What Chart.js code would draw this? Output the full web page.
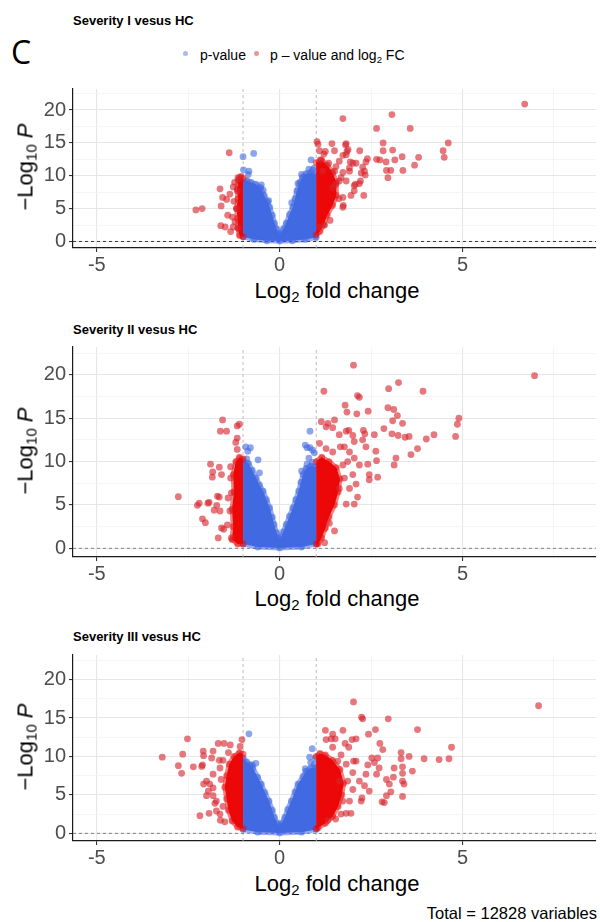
<!DOCTYPE html>
<html>
<head>
<meta charset="utf-8">
<title>Volcano plots</title>
<script src="https://cdn.jsdelivr.net/npm/chart.js"></script>
<style>
  body { margin: 0; width: 600px; height: 922px; position: relative; background: #fff; overflow: hidden;
         font-family: "Liberation Sans", Arial, sans-serif; color: #000; }
  .abs { position: absolute; white-space: nowrap; }
  .letter { left: 11px; top: 36px; font-family: "Open Sans", sans-serif; font-size: 32px; line-height: 32px; }
  .ptitle { left: 73px; font-weight: bold; font-size: 13px; line-height: 14px; }
  .ytitle { font-size: 22px; line-height: 23px; transform: translate(-50%, -50%) rotate(-90deg); }
  .xtitle { font-size: 22px; line-height: 23px; transform: translate(-50%, -50%); }
  sub { font-size: 0.68em; line-height: 0; vertical-align: -0.3em; }
  .dot { width: 5px; height: 5px; border-radius: 50%; }
  .leg { font-size: 14px; line-height: 16px; }
  canvas { position: absolute; left: 0; }
</style>
</head>
<body>

<div class="abs letter">C</div>

<!-- legend -->
<div class="abs dot" style="left:183px;top:51px;background:rgba(65,105,225,0.45)"></div>
<div class="abs leg" style="left:200px;top:47px">p-value</div>
<div class="abs dot" style="left:254px;top:51px;background:rgba(225,40,50,0.5)"></div>
<div class="abs leg" style="left:270px;top:47px">p – value and log<sub>2</sub> FC</div>

<div class="abs ptitle" style="top:14px">Severity I vesus HC</div>
<canvas id="c1" width="600" height="191" style="top:85px"></canvas>
<div class="abs ytitle" style="left:25px;top:167px">−Log<sub>10</sub> <i>P</i></div>
<div class="abs xtitle" style="left:337px;top:290px">Log<sub>2</sub> fold change</div>

<div class="abs ptitle" style="top:323px">Severity II vesus HC</div>
<canvas id="c2" width="600" height="242" style="top:343px"></canvas>
<div class="abs ytitle" style="left:25px;top:451px">−Log<sub>10</sub> <i>P</i></div>
<div class="abs xtitle" style="left:337px;top:598px">Log<sub>2</sub> fold change</div>

<div class="abs ptitle" style="top:630px">Severity III vesus HC</div>
<canvas id="c3" width="600" height="218" style="top:651px"></canvas>
<div class="abs ytitle" style="left:25px;top:747px">−Log<sub>10</sub> <i>P</i></div>
<div class="abs xtitle" style="left:337px;top:883px">Log<sub>2</sub> fold change</div>

<div class="abs" style="right:3px;top:904px;font-size:16.5px;line-height:18px">Total = 12828 variables</div>

<script>
// axes
const xMin = -5.65, xMax = 8.65;
const yMin = -1.0, yMax = 23.2;
const xTicks = [-5, -2.5, 0, 2.5, 5, 7.5];
const xMajor = [-5, 0, 5];
const yTicks = [0, 2.5, 5, 7.5, 10, 12.5, 15, 17.5, 20, 22.5];
const yMajor = [0, 5, 10, 15, 20];
const fcCutoff = [-1, 1];
const pCutoff = 0;

// ---- Severity I ----
const p1BlueCloud = [[-1.0,9.0],[-0.9,9.3],[-0.78,9.0],[-0.65,8.7],[-0.52,8.2],[-0.42,7.0],[-0.33,6.0],[-0.27,5.2],[-0.2,4.0],[-0.14,2.8],[-0.08,1.9],[-0.03,1.2],[0.0,1.0],[0.04,1.2],[0.1,1.9],[0.18,2.8],[0.27,4.1],[0.36,5.2],[0.42,6.5],[0.47,7.7],[0.55,9.0],[0.62,9.8],[0.72,10.3],[0.85,10.5],[1.0,10.2],[1.0,0.6],[0.7,0.3],[0.35,0.1],[0,0.05],[-0.35,0.1],[-0.7,0.3],[-1.0,0.7]];
const p1Blue = [[-1.0,12.9],[-0.71,13.4],[-0.99,10.9],[-0.84,10.7],[-0.86,10.2],[0.86,12.4],[0.95,11.2],[0.8,11.0],[0.9,10.9],[-0.5,8.6],[-0.45,7.8],[0.6,10.2],[0.5,8.8],[-0.3,6.2],[0.33,5.9]];
const p1RedCloudL = [[-1.0,9.6],[-1.06,9.9],[-1.13,9.3],[-1.16,8.0],[-1.14,6.5],[-1.18,5.0],[-1.15,3.5],[-1.14,2.0],[-1.1,0.9],[-1.0,0.7]];
const p1RedCloudR = [[1.0,12.0],[1.15,12.4],[1.3,11.6],[1.45,10.5],[1.55,9.0],[1.55,7.0],[1.45,5.5],[1.3,4.0],[1.2,2.5],[1.1,1.5],[1.0,1.0]];
const p1Red = [[-1.38,13.5],[-2.29,4.8],[-2.12,5.0],[-1.63,8.0],[-1.56,6.7],[-1.45,6.4],[-1.6,5.4],[-1.42,4.0],[-1.61,2.4],[-1.49,2.2],[-1.34,1.5],[-1.36,7.2],[-1.27,8.3],[-1.14,9.7],[-1.1,9.6],[-1.23,9.0],[-1.16,7.7],[-1.25,6.1],[-1.18,5.0],[-1.29,3.7],[-1.22,3.0],[-1.27,2.2],[-1.13,2.0],
  [6.70,20.9],[1.73,18.7],[3.07,19.3],[2.65,17.2],[3.57,17.2],[4.61,15.0],[4.47,13.8],[4.5,12.8],[3.8,12.8],[3.69,11.6],[3.35,12.9],[3.15,12.4],[3.09,13.9],[2.83,15.0],[2.83,13.8],[2.65,12.5],[2.74,12.4],[2.91,12.1],[2.92,10.8],[3.04,10.8],[2.96,9.7],[3.37,10.8],[2.4,12.6],[2.36,12.1],[2.19,13.8],[2.27,11.3],[2.32,10.7],[2.34,10.1],[2.3,7.0],[2.09,11.9],[2.0,11.9],[1.93,12.1],[2.07,8.7],[2.21,9.2],[2.04,7.7],[1.82,14.9],[1.87,14.0],[1.84,13.7],[1.43,14.9],[1.02,15.2],[1.05,14.8],[1.5,13.8],[1.25,13.7],[1.21,13.3],[1.09,13.8],[1.73,13.1],[1.63,12.2],[1.54,11.4],[1.73,10.5],[1.91,10.7],[1.82,9.2],[1.63,9.2],[1.45,8.2],[1.73,6.7],[1.73,5.2],[1.38,3.2],[1.09,2.2],[2.04,8.5],[2.18,8.8],[1.91,11.2],[2.23,10.4],[1.95,7.0],[1.74,5.5],[1.62,6.5],[1.23,2.5],[1.68,9.7],[1.54,8.7],[1.82,13.2],[1.8,14.7],[1.11,12.4],[1.34,11.9],[1.18,10.7],[1.5,10.7]];

// ---- Severity II ----
const p2BlueCloud = [[-1.0,10.1],[-0.85,9.8],[-0.75,9.0],[-0.64,8.1],[-0.55,7.3],[-0.45,6.6],[-0.36,5.6],[-0.27,4.65],[-0.2,3.6],[-0.15,2.75],[-0.08,1.8],[-0.03,1.2],[0,1.0],[0.05,1.3],[0.1,1.9],[0.18,2.75],[0.27,3.7],[0.36,4.65],[0.44,5.6],[0.52,6.6],[0.58,7.6],[0.64,8.5],[0.72,9.2],[0.85,9.5],[1.0,9.4],[1.0,0.5],[0.6,0.15],[0,0.05],[-0.6,0.15],[-1.0,0.5]];
const p2Blue = [[-0.93,11.7],[-0.8,11.6],[-0.87,11.2],[-0.59,10.2],[-0.9,10.3],[0.83,13.5],[0.75,11.6],[0.83,11.6],[0.9,11.3],[0.95,11.0],[0.8,10.4],[0.7,11.9],[-0.55,8.7],[0.6,8.9],[0.75,9.7],[0.9,9.9]];
const p2RedCloudL = [[-1.0,10.3],[-1.1,10.5],[-1.2,10.0],[-1.27,8.5],[-1.25,6.5],[-1.3,4.5],[-1.27,2.5],[-1.3,1.0],[-1.15,0.5],[-1.0,0.5]];
const p2RedCloudR = [[1.0,10.0],[1.15,10.5],[1.35,10.0],[1.55,9.3],[1.65,8.0],[1.6,6.5],[1.5,5.0],[1.35,3.6],[1.25,2.3],[1.15,1.2],[1.05,0.5],[1.0,0.5]];
const p2Red = [[-1.56,14.8],[-1.62,13.5],[-1.45,13.5],[-1.16,14.1],[-1.1,14.3],[-1.16,12.7],[-1.2,12.2],[-1.16,11.4],[-1.89,9.7],[-1.65,9.35],[-1.83,8.8],[-1.84,8.2],[-1.59,8.5],[-2.77,5.95],[-2.25,4.95],[-2.2,5.2],[-1.93,5.3],[-1.96,5.2],[-1.7,6.0],[-1.65,5.9],[-1.72,4.95],[-1.79,4.4],[-1.63,4.3],[-2.11,3.4],[-2.03,2.95],[-1.68,1.2],[-1.59,2.35],[-1.53,2.2],[-1.36,4.3],[-1.41,5.8],[-1.32,6.4],[-1.34,8.1],[-1.34,9.4],[-1.43,2.7],[-1.32,1.2],
  [6.97,19.9],[2.02,21.1],[3.25,19.1],[2.98,18.4],[3.92,18.1],[1.21,18.1],[2.13,17.6],[2.18,17.4],[1.79,16.5],[1.84,15.7],[2.11,15.5],[2.42,15.8],[2.96,16.2],[3.12,16.0],[3.22,15.3],[3.09,14.7],[3.36,14.4],[4.9,15.0],[4.86,14.3],[4.81,12.9],[4.22,13.1],[4.01,12.6],[3.54,12.9],[3.43,12.8],[3.24,13.0],[3.07,13.2],[2.85,13.8],[3.77,11.5],[3.59,10.8],[3.18,10.4],[3.13,9.6],[2.59,13.1],[2.29,13.6],[2.33,13.2],[2.36,11.7],[2.63,11.2],[2.65,10.1],[2.41,9.7],[2.45,8.5],[2.68,8.2],[2.45,7.9],[2.09,7.4],[2.13,5.9],[2.04,5.1],[1.82,5.1],[1.5,2.0],[1.36,2.9],[1.23,0.65],[1.14,14.6],[1.32,14.4],[1.45,13.9],[1.5,14.8],[1.27,14.0],[1.63,13.1],[1.82,13.5],[1.89,13.6],[2.0,13.0],[2.04,12.3],[2.27,12.5],[1.77,11.7],[1.66,11.7],[1.91,11.1],[1.45,11.1],[1.27,11.5],[1.09,12.1],[1.86,10.0],[1.73,9.6],[2.04,10.4],[2.18,9.6],[2.0,8.5],[1.77,8.1],[1.63,6.9],[1.91,6.9]];

// ---- Severity III ----
const p3BlueCloud = [[-1.0,9.8],[-0.9,9.3],[-0.8,8.9],[-0.73,8.5],[-0.6,7.3],[-0.5,6.4],[-0.4,5.3],[-0.29,4.2],[-0.2,3.0],[-0.14,2.06],[-0.06,1.3],[0,1.0],[0.06,1.3],[0.14,2.06],[0.22,3.1],[0.32,4.2],[0.42,5.4],[0.5,6.4],[0.64,7.4],[0.72,8.1],[0.85,8.5],[1.0,8.6],[1.0,0.5],[0.6,0.15],[0,0.05],[-0.6,0.15],[-1.0,0.5]];
const p3Blue = [[-0.84,12.95],[-0.65,9.1],[0.89,11.0],[0.82,9.9],[0.98,9.8],[0.85,9.2],[0.95,9.0],[-0.75,8.9],[0.7,8.4]];
const p3RedCloudL = [[-1.0,10.3],[-1.1,10.5],[-1.25,10.0],[-1.38,9.0],[-1.45,7.5],[-1.5,6.0],[-1.45,4.5],[-1.4,3.0],[-1.3,1.6],[-1.15,0.8],[-1.0,0.6]];
const p3RedCloudR = [[1.0,10.0],[1.1,10.4],[1.25,10.2],[1.45,9.5],[1.65,8.3],[1.75,6.5],[1.7,5.0],[1.6,3.5],[1.45,2.2],[1.25,1.3],[1.05,0.7],[1.0,0.6]];
const p3Red = [[-3.21,9.9],[-2.52,12.3],[-2.65,10.3],[-2.77,8.8],[-2.68,7.8],[-2.36,8.65],[-2.13,8.7],[-2.11,8.9],[-2.09,10.7],[-2.08,10.1],[-1.82,10.7],[-1.68,11.7],[-1.52,11.7],[-1.35,11.5],[-1.08,11.3],[-1.03,12.2],[-1.86,9.8],[-1.65,9.5],[-1.63,8.5],[-1.82,7.7],[-2.0,6.8],[-1.91,6.4],[-2.08,6.4],[-1.95,5.5],[-2.0,4.9],[-1.82,4.9],[-1.73,4.2],[-1.77,3.9],[-1.82,5.9],[-2.18,2.3],[-1.93,2.6],[-1.63,2.5],[-1.62,1.7],[-1.73,2.9],[-1.55,9.5],[-1.6,7.0],[-1.55,3.5],[-1.5,1.5],[-1.4,10.5],
  [7.08,16.6],[2.02,17.1],[2.24,15.1],[2.27,14.9],[2.97,14.9],[3.77,13.5],[2.62,13.5],[2.43,12.9],[1.25,13.4],[1.73,13.4],[1.45,12.9],[1.52,12.3],[1.41,12.3],[1.98,12.2],[2.09,12.3],[2.74,11.7],[2.82,10.9],[1.27,12.2],[1.79,11.7],[1.89,11.2],[1.45,11.2],[4.7,11.2],[4.63,9.7],[4.36,9.6],[3.95,9.7],[3.54,10.0],[3.32,10.5],[3.32,9.7],[3.36,8.65],[3.63,8.1],[3.36,7.8],[3.36,6.8],[3.4,6.4],[3.36,4.8],[3.11,7.3],[3.13,8.5],[2.92,7.0],[3.0,6.4],[3.04,5.4],[2.92,4.9],[2.8,4.1],[2.86,4.0],[2.65,7.7],[2.52,9.8],[2.68,9.8],[2.59,9.2],[2.72,8.5],[2.45,5.5],[2.25,4.6],[2.23,4.2],[2.36,7.7],[2.18,6.8],[2.32,6.2],[2.09,9.4],[2.0,7.9],[1.86,6.8],[2.0,5.7],[1.95,2.6],[1.82,2.6],[1.68,2.5],[1.53,1.86],[1.32,1.7],[1.73,4.2],[1.91,4.2],[1.63,6.8],[1.59,9.4],[1.82,9.0],[2.02,9.4],[1.68,10.2],[2.41,8.9]];

const BLUE = 'rgb(65,105,225)';
const BLUE_A = 'rgba(65,105,225,0.55)';
const RED = 'rgb(236,8,8)';
const RED_A = 'rgba(236,8,8,0.5)';
const pts = a => a.map(([x, y]) => ({x, y}));

// dense part of a cloud: solid inside, half-transparent fringe like overlapping dots
function cloud(a, col, fringe) {
  return { data: pts(a), showLine: true, fill: 'shape', backgroundColor: col, borderColor: fringe,
           borderWidth: 5, borderJoinStyle: 'round', pointRadius: 3.4, pointBorderWidth: 0, pointBackgroundColor: fringe };
}
function dots(a, col) {
  return { data: pts(a), backgroundColor: col, borderWidth: 0, pointRadius: 3.4 };
}
function rule(a, col) {
  return { data: pts(a), showLine: true, borderColor: col, borderWidth: 0.9, borderDash: [3, 3], pointRadius: 0, fill: false };
}

function makePanel(id, red, redL, redR, blue, blueCloud, hCol) {
  const datasets = [
    dots(red, 'rgba(215,35,45,0.62)'),
    cloud(redL, RED, RED_A),
    cloud(redR, RED, RED_A),
    dots(blue, 'rgba(65,105,225,0.6)'),
    cloud(blueCloud, BLUE, BLUE_A),
    rule([[xMin, pCutoff], [xMax, pCutoff]], hCol)
  ];
  fcCutoff.forEach(c => datasets.push(rule([[c, yMin], [c, yMax]], '#b5b5b5')));

  const isMaj = (list) => (c) => c.tick && list.includes(c.tick.value);

  new Chart(document.getElementById(id), {
    type: 'scatter',
    data: { datasets },
    options: {
      responsive: false,
      animation: false,
      layout: { padding: { top: 2, right: 2, left: 0, bottom: 0 } },
      plugins: { legend: { display: false }, tooltip: { enabled: false } },
      scales: {
        x: {
          type: 'linear', min: xMin, max: xMax,
          afterBuildTicks: s => { s.ticks = xTicks.map(v => ({ value: v })); },
          afterFit: s => { s.height = 28; s.paddingLeft = 0; s.paddingRight = 0; },
          ticks: { callback: v => xMajor.includes(v) ? String(v) : '', color: '#4d4d4d',
                   font: { family: 'Liberation Sans', size: 20 }, padding: 1, maxRotation: 0, autoSkip: false },
          grid: { color: c => isMaj(xMajor)(c) ? '#e6e6e6' : '#f3f3f3',
                  lineWidth: c => isMaj(xMajor)(c) ? 1.1 : 0.8,
                  tickColor: c => isMaj(xMajor)(c) ? '#333' : 'rgba(0,0,0,0)', tickLength: 4 },
          border: { color: '#1a1a1a', width: 1.2 }
        },
        y: {
          type: 'linear', min: yMin, max: yMax,
          afterBuildTicks: s => { s.ticks = yTicks.map(v => ({ value: v })); },
          afterFit: s => { s.width = 73; s.paddingTop = 0; s.paddingBottom = 0; },
          ticks: { callback: v => yMajor.includes(v) ? String(v) : '', color: '#4d4d4d',
                   font: { family: 'Liberation Sans', size: 20 }, padding: 3, autoSkip: false },
          grid: { color: c => isMaj(yMajor)(c) ? '#e6e6e6' : '#f3f3f3',
                  lineWidth: c => isMaj(yMajor)(c) ? 1.1 : 0.8,
                  tickColor: c => isMaj(yMajor)(c) ? '#333' : 'rgba(0,0,0,0)', tickLength: 4 },
          border: { color: '#1a1a1a', width: 1.2 }
        }
      }
    }
  });
}

makePanel('c1', p1Red, p1RedCloudL, p1RedCloudR, p1Blue, p1BlueCloud, '#222');
makePanel('c2', p2Red, p2RedCloudL, p2RedCloudR, p2Blue, p2BlueCloud, '#777');
makePanel('c3', p3Red, p3RedCloudL, p3RedCloudR, p3Blue, p3BlueCloud, '#777');
</script>
</body>
</html>
